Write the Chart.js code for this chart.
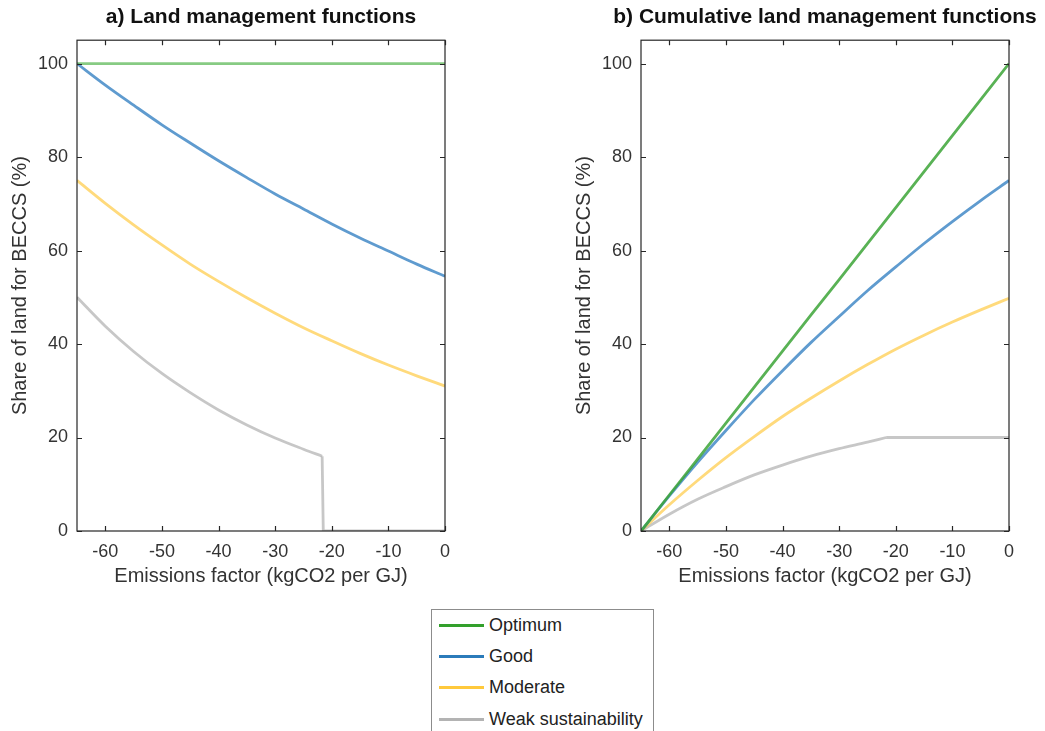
<!DOCTYPE html>
<html>
<head>
<meta charset="utf-8">
<script src="https://cdn.jsdelivr.net/npm/chart.js@4.4.1/dist/chart.umd.min.js"></script>
<style>
  html, body { margin: 0; padding: 0; background: #fff; overflow: hidden; }
  body { width: 1045px; height: 731px; position: relative; font-family: "Liberation Sans", Arial, sans-serif; }
  .panel { position: absolute; top: 0; width: 522px; height: 600px; }
  #panelA { left: 0; }
  #panelB { left: 564px; }
  #legend { position: absolute; left: 431px; top: 609px; width: 221px; height: 140px; border: 1px solid #8c8c8c; background: #fff; }
  .item { position: absolute; left: 0; height: 22px; width: 220px; }
  .item .swatch { position: absolute; left: 7px; top: 10px; width: 45px; height: 3px; }
  .item .label { position: absolute; left: 57px; top: 0; font-size: 18px; color: #222; line-height: 22px; white-space: nowrap; }
</style>
</head>
<body>
<div class="panel" id="panelA"><canvas id="chartA"></canvas></div>
<div class="panel" id="panelB"><canvas id="chartB"></canvas></div>
<div id="legend"></div>
<script>
// Emissions factor grid (kgCO2 per GJ)
const emissions = [-65, -60, -55, -50, -45, -40, -35, -30, -25, -20, -15, -10, -5, 0];

// a) share of land for BECCS (%) at each emissions factor
const optimumShare  = [100, 100, 100, 100, 100, 100, 100, 100, 100, 100, 100, 100, 100, 100];
const goodShare     = [100, 95.4, 91.1, 86.9, 83.0, 79.2, 75.6, 72.1, 68.9, 65.7, 62.7, 59.9, 57.1, 54.5];
const moderateShare = [75, 70.1, 65.5, 61.2, 57.1, 53.4, 49.9, 46.6, 43.5, 40.7, 38.0, 35.5, 33.2, 31.0];
// weak sustainability: decays until the cut-off, then falls to zero
const weakEmissions = [-65, -60, -55, -50, -45, -40, -35, -30, -25, -21.7];
const weakShare     = [50, 43.8, 38.4, 33.7, 29.6, 25.9, 22.7, 19.9, 17.5, 16.0];
const weakTailEmissions = [-21.7, -21.5, 0];
const weakTailShare     = [16.0, 0, 0];

// b) cumulative share of land for BECCS (%)
const optimumCum  = [0, 7.7, 15.4, 23.1, 30.8, 38.5, 46.2, 53.8, 61.5, 69.2, 76.9, 84.6, 92.3, 100];
const goodCum     = [0, 7.5, 14.7, 21.5, 28.1, 34.3, 40.3, 45.9, 51.4, 56.5, 61.5, 66.2, 70.7, 75.0];
const moderateCum = [0, 5.6, 10.8, 15.7, 20.2, 24.5, 28.4, 32.1, 35.6, 38.9, 41.9, 44.7, 47.3, 49.8];
const weakCum     = [0, 3.6, 6.8, 9.5, 12.0, 14.1, 16.0, 17.6, 19.0, 20.0];
const weakCumTailEmissions = [-21.7, 0];
const weakCumTail = [20.0, 20.0];

// Axis ticks
const xTicks = [-60, -50, -40, -30, -20, -10, 0];
const yTicks = [0, 20, 40, 60, 80, 100];

const seriesNames = ['Optimum', 'Good', 'Moderate', 'Weak sustainability'];
const seriesColors = ['#33a02c', '#2b7bba', '#ffc93c', '#b3b3b3'];
const lineColors = ['rgba(60,165,55,0.85)', 'rgba(55,130,195,0.8)', 'rgba(255,205,80,0.75)', 'rgba(180,180,180,0.75)'];

const FONT = '"Liberation Sans", Arial, sans-serif';
const pts = (xs, ys) => xs.map((x, i) => ({ x: x, y: ys[i] }));

function series(label, idx, data, smooth, colour) {
  return {
    label: label,
    data: data,
    borderColor: colour || lineColors[idx],
    backgroundColor: colour || lineColors[idx],
    borderWidth: 2.8,
    pointRadius: 0,
    fill: false,
    cubicInterpolationMode: smooth ? 'monotone' : 'default',
    tension: 0
  };
}

// Box frame with inward tick marks on all four sides
const boxFrame = {
  id: 'boxFrame',
  afterDatasetsDraw(chart) {
    const { ctx, chartArea: a, scales } = chart;
    ctx.save();
    ctx.strokeStyle = '#262626';
    ctx.lineWidth = 1.2;
    ctx.strokeRect(a.left, a.top, a.right - a.left, a.bottom - a.top);
    const len = 5;
    ctx.beginPath();
    xTicks.forEach(v => {
      const px = Math.round(scales.x.getPixelForValue(v)) + 0.5;
      ctx.moveTo(px, a.bottom); ctx.lineTo(px, a.bottom - len);
      ctx.moveTo(px, a.top); ctx.lineTo(px, a.top + len);
    });
    yTicks.forEach(v => {
      const py = Math.round(scales.y.getPixelForValue(v)) + 0.5;
      ctx.moveTo(a.left, py); ctx.lineTo(a.left + len, py);
      ctx.moveTo(a.right, py); ctx.lineTo(a.right - len, py);
    });
    ctx.stroke();
    ctx.restore();
  }
};

function makeChart(canvasId, title, datasets) {
  return new Chart(document.getElementById(canvasId), {
    type: 'line',
    data: { datasets: datasets },
    plugins: [boxFrame],
    options: {
      responsive: true,
      maintainAspectRatio: false,
      animation: false,
      layout: { padding: 0 },
      plugins: {
        legend: { display: false },
        tooltip: { enabled: false },
        title: {
          display: true,
          text: title,
          color: '#111',
          font: { family: FONT, size: 21, weight: 'bold' },
          padding: { top: 5, bottom: 10 }
        }
      },
      scales: {
        x: {
          type: 'linear',
          min: -65,
          max: 0,
          afterBuildTicks: s => { s.ticks = xTicks.map(v => ({ value: v })); },
          afterFit: s => { s.height = 69; },
          grid: { display: false, drawTicks: false },
          border: { display: false },
          ticks: { color: '#333', font: { family: FONT, size: 18 }, padding: 10, maxRotation: 0 },
          title: {
            display: true,
            text: 'Emissions factor (kgCO2 per GJ)',
            color: '#333',
            font: { family: FONT, size: 20 },
            padding: { top: 0, bottom: 12 }
          }
        },
        y: {
          type: 'linear',
          min: 0,
          max: 105,
          afterBuildTicks: s => { s.ticks = yTicks.map(v => ({ value: v })); },
          afterFit: s => { s.width = 77; },
          grid: { display: false, drawTicks: false },
          border: { display: false },
          ticks: { color: '#333', font: { family: FONT, size: 18 }, padding: 9 },
          title: {
            display: true,
            text: 'Share of land for BECCS (%)',
            color: '#333',
            font: { family: FONT, size: 20 },
            padding: { top: 8, bottom: 4 }
          }
        },
        // empty right-hand margin so the plot sits centred under its title
        margin: {
          type: 'linear',
          position: 'right',
          display: true,
          afterFit: s => { s.width = 77; },
          grid: { display: false, drawTicks: false },
          border: { display: false },
          ticks: { display: false }
        }
      }
    }
  });
}

makeChart('chartA', 'a) Land management functions', [
  series('Optimum', 0, pts(emissions, optimumShare), false, 'rgba(95,185,90,0.75)'),
  series('Good', 1, pts(emissions, goodShare), true),
  series('Moderate', 2, pts(emissions, moderateShare), true),
  series('Weak sustainability', 3, pts(weakEmissions, weakShare), true),
  series('Weak sustainability (cut-off)', 3, pts(weakTailEmissions, weakTailShare), false)
]);

makeChart('chartB', 'b) Cumulative land management functions', [
  series('Optimum', 0, pts(emissions, optimumCum), false),
  series('Good', 1, pts(emissions, goodCum), true),
  series('Moderate', 2, pts(emissions, moderateCum), true),
  series('Weak sustainability', 3, pts(emissions.slice(0, 9).concat([-21.7]), weakCum), true),
  series('Weak sustainability (plateau)', 3, pts(weakCumTailEmissions, weakCumTail), false)
]);

// Shared legend below the two panels
const legend = document.getElementById('legend');
seriesNames.forEach((name, i) => {
  const row = document.createElement('div');
  row.className = 'item';
  row.style.top = (4 + i * 31.2) + 'px';
  const sw = document.createElement('div');
  sw.className = 'swatch';
  sw.style.background = seriesColors[i];
  const lab = document.createElement('div');
  lab.className = 'label';
  lab.textContent = name;
  row.appendChild(sw);
  row.appendChild(lab);
  legend.appendChild(row);
});
</script>
</body>
</html>
